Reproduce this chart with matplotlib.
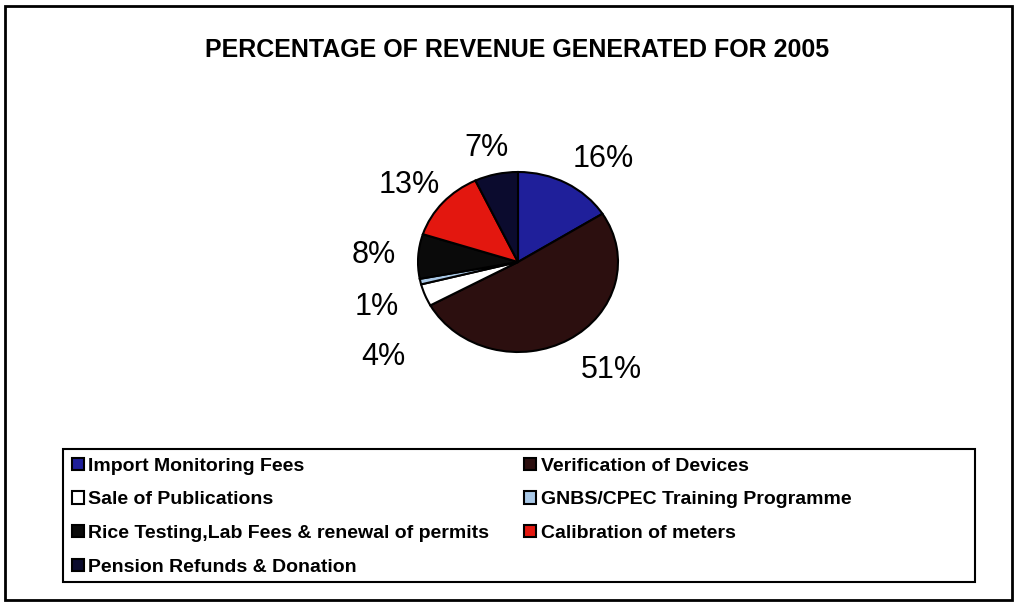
import matplotlib.pyplot as plt
import numpy as np
from matplotlib.patches import Rectangle

plt.rcParams['font.family'] = ['Liberation Sans', 'DejaVu Sans']

# Revenue sources, in pie order (clockwise from 12 o'clock)
categories = [
    'Import Monitoring Fees',
    'Verification of Devices',
    'Sale of Publications',
    'GNBS/CPEC Training Programme',
    'Rice Testing,Lab Fees & renewal of permits',
    'Calibration of meters',
    'Pension Refunds & Donation',
]
shares = [16, 51, 4, 1, 8, 13, 7]
colours = ['#1f1f9a', '#2c0f0f', '#ffffff', '#a9c8e6', '#0a0a0a', '#e3170f', '#0b0b2e']

# order legend entries so two columns read left-to-right
legend_order = [0, 2, 4, 6, 1, 3, 5]

# small nudges for crowded labels (data units)
label_nudge = {0: (0.15, 0.0), 1: (0.2, -0.08), 2: (0.0, -0.58), 3: (0.0, -0.22)}

W, H = 1019, 605
fig = plt.figure(figsize=(W / 100, H / 100), dpi=100)

# outer frame and legend box
fig.patches.append(Rectangle((5 / W, 5 / H), 1007 / W, 594 / H, transform=fig.transFigure,
                             fill=False, edgecolor='black', linewidth=2))
fig.patches.append(Rectangle((63 / W, 1 - 582 / H), 912 / W, 133 / H, transform=fig.transFigure,
                             fill=False, edgecolor='black', linewidth=1.5))

fig.text(517 / W, 1 - 50 / H, 'PERCENTAGE OF REVENUE GENERATED FOR 2005',
         ha='center', va='center', fontsize=18, fontweight='bold')

# pie axes: centre (518, 262) px, radius 100 px wide / 90 px tall
cx, cy, rx, ry = 518, 262, 100, 90
ax = fig.add_axes([(cx - 1.5 * rx) / W, 1 - (cy + 1.5 * ry) / H, 3 * rx / W, 3 * ry / H])
wedges, _ = ax.pie(shares, colors=colours, startangle=90, counterclock=False,
                   wedgeprops=dict(edgecolor='black', linewidth=1.5))
ax.set_aspect('auto')
ax.set_xlim(-1.5, 1.5)
ax.set_ylim(-1.5, 1.5)
ax.axis('off')

for i, w in enumerate(wedges):
    mid = np.deg2rad((w.theta1 + w.theta2) / 2)
    dx, dy = label_nudge.get(i, (0, 0))
    ax.text(1.45 * np.cos(mid) + dx, 1.3 * np.sin(mid) + dy, f'{shares[i]}%',
            ha='center', va='center', fontsize=22)

handles = [wedges[i] for i in legend_order]
labels = [categories[i] for i in legend_order]
leg = fig.legend(handles, labels, ncol=2, loc='upper left',
                 bbox_to_anchor=(66 / W, 1 - 452 / H),
                 prop=dict(size=14, weight='bold'), frameon=False,
                 handlelength=0.6, handleheight=0.6,
                 handletextpad=0.25, labelspacing=0.85, borderaxespad=0,
                 borderpad=0.3, columnspacing=1.8)

fig.savefig('out.png', dpi=100)
